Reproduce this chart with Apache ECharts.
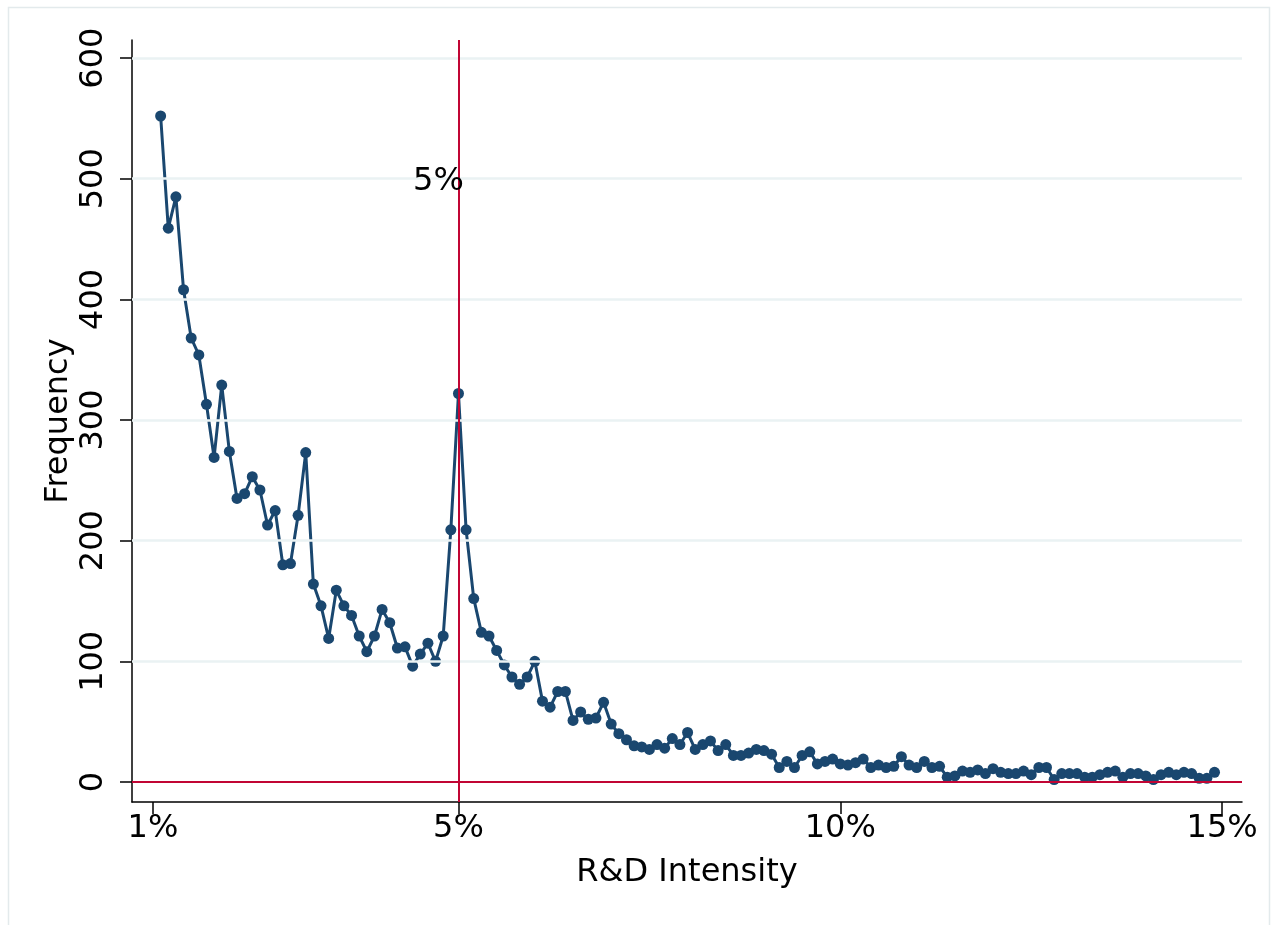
<!DOCTYPE html>
<html>
<head>
<meta charset="utf-8">
<script src="https://cdn.jsdelivr.net/npm/echarts@6/dist/echarts.min.js"></script>
<style>html,body{margin:0;padding:0;background:#fff;}#c{width:1276px;height:925px;}</style>
</head>
<body>
<div id="c"></div>
<script>
const intensity = [1.1,1.2,1.3,1.4,1.5,1.6,1.7,1.8,1.9,2.0,2.1,2.2,2.3,2.4,2.5,2.6,2.7,2.8,2.9,3.0,
3.1,3.2,3.3,3.4,3.5,3.6,3.7,3.8,3.9,4.0,4.1,4.2,4.3,4.4,4.5,4.6,4.7,4.8,4.9,5.0,
5.1,5.2,5.3,5.4,5.5,5.6,5.7,5.8,5.9,6.0,6.1,6.2,6.3,6.4,6.5,6.6,6.7,6.8,6.9,7.0,
7.1,7.2,7.3,7.4,7.5,7.6,7.7,7.8,7.9,8.0,8.1,8.2,8.3,8.4,8.5,8.6,8.7,8.8,8.9,9.0,
9.1,9.2,9.3,9.4,9.5,9.6,9.7,9.8,9.9,10.0,10.1,10.2,10.3,10.4,10.5,10.6,10.7,10.8,10.9,11.0,
11.1,11.2,11.3,11.4,11.5,11.6,11.7,11.8,11.9,12.0,12.1,12.2,12.3,12.4,12.5,12.6,12.7,12.8,12.9,13.0,
13.1,13.2,13.3,13.4,13.5,13.6,13.7,13.8,13.9,14.0,14.1,14.2,14.3,14.4,14.5,14.6,14.7,14.8,14.9];
const frequency = [552,459,485,408,368,354,313,269,329,274,235,239,253,242,213,225,180,181,221,273,
164,146,119,159,146,138,121,108,121,143,132,111,112,96,106,115,100,121,209,322,
209,152,124,121,109,97,87,81,87,100,67,62,75,75,51,58,52,53,66,48,
40,35,30,29,27,31,28,36,31,41,27,31,34,26,31,22,22,24,27,26,
23,12,17,12,22,25,15,17,19,15,14,16,19,12,14,12,13,21,14,12,
17,12,13,4,5,9,8,10,7,11,8,7,7,9,6,12,12,2,7,7,
7,4,4,6,8,9,4,7,7,5,2,6,8,6,8,7,3,3,8];
const xTicks = [1,5,10,15];
const yTicks = [0,100,200,300,400,500,600];
const gridValues = [100,200,300,400,500,600];
const refX = 5;
const refY = 0;
const annotation = {x:5, y:500, text:'5%'};

const font = 'DejaVu Sans';
const fs = 32;
const navy = '#1a476f';
const chart = echarts.init(document.getElementById('c'), null, {renderer:'canvas'});
const pts = intensity.map((x,i)=>[x, frequency[i]]);
chart.setOption({
  animation:false,
  backgroundColor:'#ffffff',
  graphic:[{type:'rect', shape:{x:8.5,y:7.5,width:1261,height:930}, style:{fill:'none', stroke:'#e3eaec', lineWidth:1.5}, z:-10}],
  grid:{left:132, right:34, top:40, bottom:123, containLabel:false},
  xAxis:{type:'value', min:0.725, max:15.26,
    name:'R&D Intensity', nameLocation:'middle', nameGap:55, nameMoveOverlap:false,
    nameTextStyle:{fontFamily:font, fontSize:fs, color:'#000'},
    axisLine:{show:true, onZero:false, lineStyle:{color:'#000', width:1.5}},
    axisTick:{show:true, inside:false, length:12, customValues:xTicks, lineStyle:{color:'#000', width:1.5}},
    axisLabel:{customValues:xTicks, margin:11, fontFamily:font, fontSize:fs, color:'#000', formatter:v=>v+'%'},
    splitLine:{show:false}},
  yAxis:{type:'value', min:-16.6, max:615,
    name:'Frequency', nameLocation:'middle', nameGap:57, nameRotate:90, nameMoveOverlap:false,
    nameTextStyle:{fontFamily:font, fontSize:fs, color:'#000'},
    axisLine:{show:true, onZero:false, lineStyle:{color:'#000', width:1.5}},
    axisTick:{show:true, inside:false, length:12, customValues:yTicks, lineStyle:{color:'#000', width:1.5}},
    axisLabel:{customValues:yTicks, rotate:90, margin:22, fontFamily:font, fontSize:fs, color:'#000'},
    splitLine:{show:false}},
  series:[
    {type:'line', data:[], z:1, silent:true,
      markLine:{silent:true, symbol:['none','none'], label:{show:false}, animation:false,
        lineStyle:{color:'#eaf2f3', width:2.5, type:'solid'},
        data: gridValues.map(v=>({yAxis:v}))}},
    {type:'line', data:[], z:1.5, silent:true,
      markLine:{silent:true, symbol:['none','none'], label:{show:false}, animation:false,
        lineStyle:{color:'#c10534', width:2, type:'solid'},
        data:[{xAxis:refX},{yAxis:refY}]}},
    {type:'line', data:pts, z:3, symbol:'none', showSymbol:false, silent:true,
      lineStyle:{color:navy, width:3, join:'round', cap:'round'},
      markPoint:{symbol:'circle', symbolSize:0, silent:true,
        label:{show:true, position:'inside', offset:[-20,3], formatter:annotation.text, fontFamily:font, fontSize:fs, color:'#000'},
        data:[{coord:[annotation.x, annotation.y]}]}},
    {type:'scatter', data:pts, z:4, symbol:'circle', symbolSize:11, silent:true,
      itemStyle:{color:navy, borderWidth:0, opacity:1}}
  ]
});
</script>
</body>
</html>
